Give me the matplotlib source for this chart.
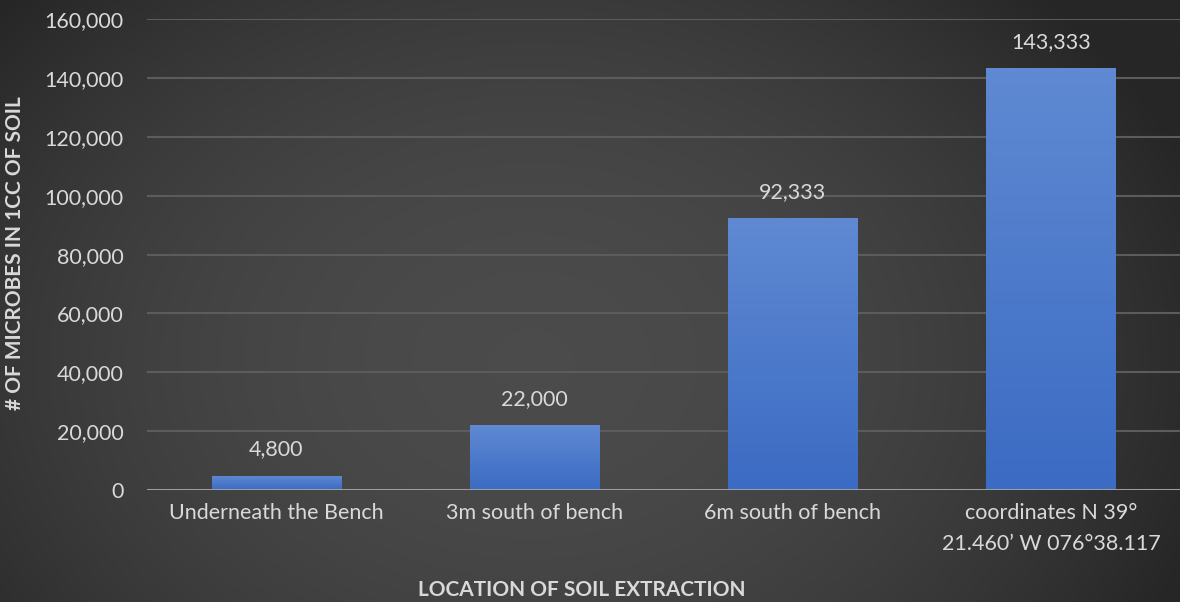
import numpy as np
import matplotlib.pyplot as plt
from matplotlib.colors import LinearSegmentedColormap

plt.rcParams['font.family'] = ['Lato', 'DejaVu Sans']

locations = ['Underneath the Bench', '3m south of bench', '6m south of bench',
             'coordinates N 39°\n21.460\u2019 W 076°38.117']
microbes = [4800, 22000, 92333, 143333]
yticks = [0, 20000, 40000, 60000, 80000, 100000, 120000, 140000, 160000]

text_color = '#d9d9d9'

fig = plt.figure(figsize=(11.8, 6.02), dpi=100)

# dark background, lighter towards the middle
bg = fig.add_axes([0, 0, 1, 1], zorder=0)
xx, yy = np.meshgrid(np.linspace(-1, 1, 400), np.linspace(-1, 1, 200))
shade = 1 - 0.55 * (xx + 0.1) ** 2 - 0.25 * (yy - 0.2) ** 2
bg_cmap = LinearSegmentedColormap.from_list('bg', ['#262626', '#4b4b4b'])
bg.imshow(shade, cmap=bg_cmap, aspect='auto', extent=[0, 1, 0, 1], vmin=0.2, vmax=1)
bg.axis('off')

ax = fig.add_axes([0.1246, 0.186, 0.8754, 0.782], zorder=1)
ax.patch.set_alpha(0)

x = np.arange(len(locations))
bars = ax.bar(x, microbes, width=0.5, color='#4775c8', zorder=3)

# vertical gradient inside each bar
bar_cmap = LinearSegmentedColormap.from_list('bar', ['#3b6bc3', '#5f89d2'])
grad = np.linspace(0, 1, 100).reshape(-1, 1)
for b in bars:
    x0, y0, w, h = b.get_x(), b.get_y(), b.get_width(), b.get_height()
    im = ax.imshow(grad, cmap=bar_cmap, aspect='auto', origin='lower',
                   extent=[x0, x0 + w, y0, y0 + h], zorder=3)
    im.set_clip_path(b)

for xi, v in zip(x, microbes):
    ax.annotate(f'{v:,}', (xi, v), xytext=(0, 12), textcoords='offset points',
                ha='center', va='bottom', fontsize=15.5, color=text_color)

ax.set_xlim(-0.5, len(locations) - 0.5)
ax.set_ylim(0, 160000)
ax.set_yticks(yticks)
ax.set_yticklabels([f'{t:,}' for t in yticks])
ax.set_xticks(x)
ax.set_xticklabels(locations, linespacing=1.7)
ax.tick_params(axis='both', length=0, labelsize=15.5, colors=text_color)
ax.tick_params(axis='y', pad=17)
ax.tick_params(axis='x', pad=9)

ax.grid(axis='y', color='#5c5c5c', linewidth=1.5, zorder=0)
ax.axhline(0, color='#a6a6a6', linewidth=2, zorder=4)
for side in ax.spines.values():
    side.set_visible(False)

fig.text(0.493, 0.02, 'LOCATION OF SOIL EXTRACTION', ha='center', va='center',
         fontsize=15, fontweight='bold', color=text_color)
fig.text(0.013, 0.58, '# OF MICROBES IN 1CC OF SOIL', ha='center', va='center',
         rotation=90, fontsize=15, fontweight='bold', color=text_color)

fig.savefig('out.png', dpi=100)
